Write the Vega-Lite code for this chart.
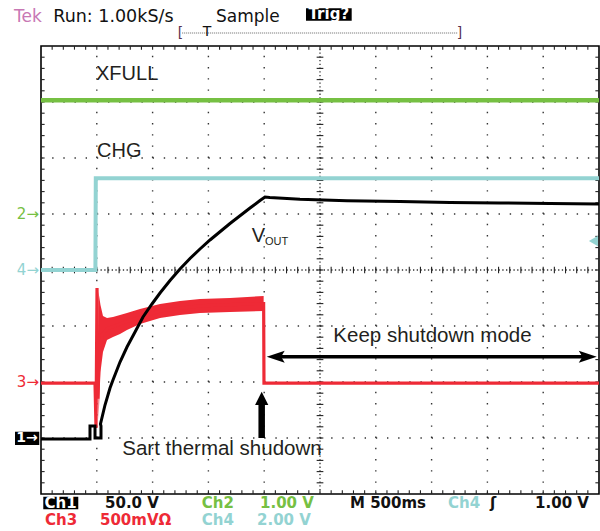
{
"$schema": "https://vega.github.io/schema/vega-lite/v6.json",
"width": 558, "height": 448,
"autosize": {"type": "none"},
"padding": {"left": 41, "top": 46, "right": 1, "bottom": 37},
"background": "#ffffff",
"config": {"view": {"stroke": "#000000", "strokeWidth": 1.6}},
"data": {"values": [{}]},
"datasets": {
"green": [{"x":0,"y":3.03},{"x":10,"y":3.03}],
"cyan": [{"x":0,"y":0},{"x":0.975,"y":0},{"x":0.982,"y":1.64},{"x":10,"y":1.64}],
"red": [{"x":0,"y":-2.02},{"x":0.968,"y":-2.02},{"x":0.986,"y":-2.82},{"x":1.004,"y":-0.32},{"x":1.02,"y":-2.3},{"x":1.04,"y":-1.5},{"x":1.1,"y":-1.15},{"x":1.183,"y":-1.05},{"x":1.541,"y":-0.92},{"x":2.133,"y":-0.73},{"x":2.849,"y":-0.64},{"x":3.387,"y":-0.62},{"x":3.99,"y":-0.6},{"x":3.996,"y":-2.02},{"x":10,"y":-2.02}],
"redBand": [{"x":1.03,"hi":-0.39,"lo":-2.68},{"x":1.066,"hi":-0.625,"lo":-1.82},{"x":1.111,"hi":-0.821,"lo":-1.464},{"x":1.183,"hi":-0.857,"lo":-1.25},{"x":1.29,"hi":-0.839,"lo":-1.196},{"x":1.416,"hi":-0.804,"lo":-1.143},{"x":1.541,"hi":-0.768,"lo":-1.071},{"x":1.774,"hi":-0.696,"lo":-0.964},{"x":2.133,"hi":-0.607,"lo":-0.857},{"x":2.491,"hi":-0.554,"lo":-0.804},{"x":2.849,"hi":-0.518,"lo":-0.768},{"x":3.387,"hi":-0.5,"lo":-0.75},{"x":3.99,"hi":-0.464,"lo":-0.732}],
"black": [{"x":0,"y":-3.018},{"x":0.878,"y":-3.018},{"x":0.878,"y":-2.786},{"x":0.968,"y":-2.786},{"x":0.968,"y":-3.0},{"x":1.075,"y":-3.0},{"x":1.075,"y":-2.786},{"x":1.066,"y":-2.75},{"x":1.147,"y":-2.411},{"x":1.237,"y":-2.107},{"x":1.29,"y":-1.964},{"x":1.416,"y":-1.643},{"x":1.541,"y":-1.375},{"x":1.685,"y":-1.107},{"x":1.828,"y":-0.839},{"x":1.989,"y":-0.607},{"x":2.133,"y":-0.411},{"x":2.312,"y":-0.188},{"x":2.491,"y":0.018},{"x":2.670,"y":0.205},{"x":2.849,"y":0.375},{"x":3.029,"y":0.536},{"x":3.387,"y":0.83},{"x":3.746,"y":1.107},{"x":3.925,"y":1.241},{"x":4.014,"y":1.304},{"x":4.1,"y":1.295},{"x":4.642,"y":1.263},{"x":5.484,"y":1.238},{"x":6.434,"y":1.223},{"x":7.33,"y":1.205},{"x":8.226,"y":1.196},{"x":9.122,"y":1.188},{"x":10,"y":1.179}],
"majorX": [{"v":1},{"v":2},{"v":3},{"v":4},{"v":6},{"v":7},{"v":8},{"v":9}],
"majorY": [{"v":-3},{"v":-2},{"v":-1},{"v":1},{"v":2},{"v":3}],
"minorX": [{"v":0.2},{"v":0.4},{"v":0.6},{"v":0.8},{"v":1.0},{"v":1.2},{"v":1.4},{"v":1.6},{"v":1.8},{"v":2.0},{"v":2.2},{"v":2.4},{"v":2.6},{"v":2.8},{"v":3.0},{"v":3.2},{"v":3.4},{"v":3.6},{"v":3.8},{"v":4.0},{"v":4.2},{"v":4.4},{"v":4.6},{"v":4.8},{"v":5.0},{"v":5.2},{"v":5.4},{"v":5.6},{"v":5.8},{"v":6.0},{"v":6.2},{"v":6.4},{"v":6.6},{"v":6.8},{"v":7.0},{"v":7.2},{"v":7.4},{"v":7.6},{"v":7.8},{"v":8.0},{"v":8.2},{"v":8.4},{"v":8.6},{"v":8.8},{"v":9.0},{"v":9.2},{"v":9.4},{"v":9.6},{"v":9.8}],
"minorY": [{"v":-3.8},{"v":-3.6},{"v":-3.4},{"v":-3.2},{"v":-3.0},{"v":-2.8},{"v":-2.6},{"v":-2.4},{"v":-2.2},{"v":-2.0},{"v":-1.8},{"v":-1.6},{"v":-1.4},{"v":-1.2},{"v":-1.0},{"v":-0.8},{"v":-0.6},{"v":-0.4},{"v":-0.2},{"v":0},{"v":0.2},{"v":0.4},{"v":0.6},{"v":0.8},{"v":1.0},{"v":1.2},{"v":1.4},{"v":1.6},{"v":1.8},{"v":2.0},{"v":2.2},{"v":2.4},{"v":2.6},{"v":2.8},{"v":3.0},{"v":3.2},{"v":3.4},{"v":3.6},{"v":3.8}]
},
"layer": [
{"data":{"name":"majorX"},"mark":{"type":"rule","color":"#333333","strokeWidth":1.4,"strokeDash":[1.4,9.8]},
 "encoding":{"x":{"field":"v","type":"quantitative","scale":{"domain":[0,10]},"axis":null},"y":{"datum":-4,"type":"quantitative","scale":{"domain":[-4,4]},"axis":null},"y2":{"datum":4}}},
{"data":{"name":"majorY"},"mark":{"type":"rule","color":"#333333","strokeWidth":1.4,"strokeDash":[1.4,9.76]},
 "encoding":{"y":{"field":"v","type":"quantitative","scale":{"domain":[-4,4]},"axis":null},"x":{"datum":0,"type":"quantitative","scale":{"domain":[0,10]},"axis":null},"x2":{"datum":10}}},
{"mark":{"type":"rule","color":"#333333","strokeWidth":1.3,"strokeDash":[1.3,2.43]},
 "encoding":{"x":{"datum":5,"type":"quantitative","scale":{"domain":[0,10]},"axis":null},"y":{"datum":-4,"type":"quantitative","scale":{"domain":[-4,4]},"axis":null},"y2":{"datum":4}}},
{"mark":{"type":"rule","color":"#333333","strokeWidth":1.3,"strokeDash":[1.3,2.42]},
 "encoding":{"x":{"datum":0,"type":"quantitative","scale":{"domain":[0,10]},"axis":null},"x2":{"datum":10},"y":{"datum":0,"type":"quantitative","scale":{"domain":[-4,4]},"axis":null}}},
{"data":{"name":"minorX"},"mark":{"type":"rule","color":"#222222","strokeWidth":1.1},
 "encoding":{"x":{"field":"v","type":"quantitative","scale":{"domain":[0,10]},"axis":null},"y":{"datum":4,"type":"quantitative","scale":{"domain":[-4,4]},"axis":null},"y2":{"datum":3.935}}},
{"data":{"name":"minorX"},"mark":{"type":"rule","color":"#222222","strokeWidth":1.1},
 "encoding":{"x":{"field":"v","type":"quantitative","scale":{"domain":[0,10]},"axis":null},"y":{"datum":-4,"type":"quantitative","scale":{"domain":[-4,4]},"axis":null},"y2":{"datum":-3.935}}},
{"data":{"name":"minorX"},"mark":{"type":"rule","color":"#222222","strokeWidth":1.1},
 "encoding":{"x":{"field":"v","type":"quantitative","scale":{"domain":[0,10]},"axis":null},"y":{"datum":-0.06,"type":"quantitative","scale":{"domain":[-4,4]},"axis":null},"y2":{"datum":0.06}}},
{"data":{"name":"minorY"},"mark":{"type":"rule","color":"#222222","strokeWidth":1.1},
 "encoding":{"y":{"field":"v","type":"quantitative","scale":{"domain":[-4,4]},"axis":null},"x":{"datum":0,"type":"quantitative","scale":{"domain":[0,10]},"axis":null},"x2":{"datum":0.065}}},
{"data":{"name":"minorY"},"mark":{"type":"rule","color":"#222222","strokeWidth":1.1},
 "encoding":{"y":{"field":"v","type":"quantitative","scale":{"domain":[-4,4]},"axis":null},"x":{"datum":9.935,"type":"quantitative","scale":{"domain":[0,10]},"axis":null},"x2":{"datum":10}}},
{"data":{"name":"minorY"},"mark":{"type":"rule","color":"#222222","strokeWidth":1.1},
 "encoding":{"y":{"field":"v","type":"quantitative","scale":{"domain":[-4,4]},"axis":null},"x":{"datum":4.94,"type":"quantitative","scale":{"domain":[0,10]},"axis":null},"x2":{"datum":5.06}}},
{"data":{"name":"green"},"mark":{"type":"line","color":"#76c043","strokeWidth":4.5},
 "encoding":{"x":{"field":"x","type":"quantitative","scale":{"domain":[0,10]},"axis":null},"y":{"field":"y","type":"quantitative","scale":{"domain":[-4,4]},"axis":null},"order":{"value":null}}},
{"data":{"name":"cyan"},"mark":{"type":"line","color":"#93d3d2","strokeWidth":4},
 "encoding":{"x":{"field":"x","type":"quantitative","scale":{"domain":[0,10]},"axis":null},"y":{"field":"y","type":"quantitative","scale":{"domain":[-4,4]},"axis":null},"order":{"value":null}}},
{"data":{"name":"redBand"},"mark":{"type":"area","color":"#ee2a36","opacity":1},
 "encoding":{"x":{"field":"x","type":"quantitative","scale":{"domain":[0,10]},"axis":null},"y":{"field":"hi","type":"quantitative","scale":{"domain":[-4,4]},"axis":null},"y2":{"field":"lo"}}},
{"data":{"name":"red"},"mark":{"type":"line","color":"#ee2a36","strokeWidth":3.2},
 "encoding":{"x":{"field":"x","type":"quantitative","scale":{"domain":[0,10]},"axis":null},"y":{"field":"y","type":"quantitative","scale":{"domain":[-4,4]},"axis":null},"order":{"value":null}}},
{"data":{"name":"black"},"mark":{"type":"line","color":"#000000","strokeWidth":3},
 "encoding":{"x":{"field":"x","type":"quantitative","scale":{"domain":[0,10]},"axis":null},"y":{"field":"y","type":"quantitative","scale":{"domain":[-4,4]},"axis":null},"order":{"value":null}}},
{"mark":{"type":"text","text":"2→","align":"right","baseline":"middle","font":"DejaVu Sans","fontSize":15,"color":"#76c043"},
 "encoding":{"x":{"datum":-0.036,"type":"quantitative","scale":{"domain":[0,10]},"axis":null},"y":{"datum":1.0,"type":"quantitative","scale":{"domain":[-4,4]},"axis":null}}},
{"mark":{"type":"text","text":"4→","align":"right","baseline":"middle","font":"DejaVu Sans","fontSize":15,"color":"#93d3d2"},
 "encoding":{"x":{"datum":-0.036,"type":"quantitative","scale":{"domain":[0,10]},"axis":null},"y":{"datum":0,"type":"quantitative","scale":{"domain":[-4,4]},"axis":null}}},
{"mark":{"type":"text","text":"3→","align":"right","baseline":"middle","font":"DejaVu Sans","fontSize":15,"color":"#ee2a36"},
 "encoding":{"x":{"datum":-0.036,"type":"quantitative","scale":{"domain":[0,10]},"axis":null},"y":{"datum":-2.0,"type":"quantitative","scale":{"domain":[-4,4]},"axis":null}}},
{"mark":{"type":"rect","color":"#000000"},
 "encoding":{"x":{"datum":-0.466,"type":"quantitative","scale":{"domain":[0,10]},"axis":null},"x2":{"datum":-0.031},"y":{"datum":-2.888,"type":"quantitative","scale":{"domain":[-4,4]},"axis":null},"y2":{"datum":-3.125}}},
{"mark":{"type":"text","text":"1→","align":"center","baseline":"middle","font":"DejaVu Sans","fontWeight":"bold","fontSize":14,"color":"#ffffff"},
 "encoding":{"x":{"datum":-0.25,"type":"quantitative","scale":{"domain":[0,10]},"axis":null},"y":{"datum":-3.006,"type":"quantitative","scale":{"domain":[-4,4]},"axis":null}}},
{"mark":{"type":"point","shape":"triangle-left","filled":true,"size":110,"color":"#93d3d2","opacity":1},
 "encoding":{"x":{"datum":9.9,"type":"quantitative","scale":{"domain":[0,10]},"axis":null},"y":{"datum":0.518,"type":"quantitative","scale":{"domain":[-4,4]},"axis":null}}},
{"mark":{"type":"text","text":"XFULL","align":"left","baseline":"alphabetic","font":"Liberation Sans","fontSize":20,"color":"#231f20"},
 "encoding":{"x":{"datum":0.986,"type":"quantitative","scale":{"domain":[0,10]},"axis":null},"y":{"datum":3.393,"type":"quantitative","scale":{"domain":[-4,4]},"axis":null}}},
{"mark":{"type":"text","text":"CHG","align":"left","baseline":"alphabetic","font":"Liberation Sans","fontSize":20,"color":"#231f20"},
 "encoding":{"x":{"datum":1.004,"type":"quantitative","scale":{"domain":[0,10]},"axis":null},"y":{"datum":2.018,"type":"quantitative","scale":{"domain":[-4,4]},"axis":null}}},
{"mark":{"type":"text","text":"V","align":"left","baseline":"alphabetic","font":"Liberation Sans","fontSize":20,"color":"#231f20"},
 "encoding":{"x":{"datum":3.776,"type":"quantitative","scale":{"domain":[0,10]},"axis":null},"y":{"datum":0.505,"type":"quantitative","scale":{"domain":[-4,4]},"axis":null}}},
{"mark":{"type":"text","text":"OUT","align":"left","baseline":"alphabetic","font":"Liberation Sans","fontSize":11,"color":"#231f20"},
 "encoding":{"x":{"datum":4.014,"type":"quantitative","scale":{"domain":[0,10]},"axis":null},"y":{"datum":0.446,"type":"quantitative","scale":{"domain":[-4,4]},"axis":null}}},
{"mark":{"type":"text","text":"Keep shutdown mode","align":"center","baseline":"alphabetic","font":"Liberation Sans","fontSize":20.5,"color":"#231f20"},
 "encoding":{"x":{"datum":7.016,"type":"quantitative","scale":{"domain":[0,10]},"axis":null},"y":{"datum":-1.28,"type":"quantitative","scale":{"domain":[-4,4]},"axis":null}}},
{"mark":{"type":"text","text":"Sart thermal shudown","align":"right","baseline":"alphabetic","font":"Liberation Sans","fontSize":20.5,"color":"#231f20"},
 "encoding":{"x":{"datum":5.03,"type":"quantitative","scale":{"domain":[0,10]},"axis":null},"y":{"datum":-3.31,"type":"quantitative","scale":{"domain":[-4,4]},"axis":null}}},
{"mark":{"type":"rule","color":"#000000","strokeWidth":3.5},
 "encoding":{"x":{"datum":4.2,"type":"quantitative","scale":{"domain":[0,10]},"axis":null},"x2":{"datum":9.8},"y":{"datum":-1.548,"type":"quantitative","scale":{"domain":[-4,4]},"axis":null}}},
{"mark":{"type":"point","shape":"M0,0L4.5,-1.5L3.6,0L4.5,1.5Z","filled":true,"size":64,"color":"#000000","opacity":1},
 "encoding":{"x":{"datum":4.045,"type":"quantitative","scale":{"domain":[0,10]},"axis":null},"y":{"datum":-1.548,"type":"quantitative","scale":{"domain":[-4,4]},"axis":null}}},
{"mark":{"type":"point","shape":"M0,0L-4.5,-1.5L-3.6,0L-4.5,1.5Z","filled":true,"size":64,"color":"#000000","opacity":1},
 "encoding":{"x":{"datum":9.96,"type":"quantitative","scale":{"domain":[0,10]},"axis":null},"y":{"datum":-1.548,"type":"quantitative","scale":{"domain":[-4,4]},"axis":null}}},
{"mark":{"type":"rule","color":"#000000","strokeWidth":6.5},
 "encoding":{"x":{"datum":3.955,"type":"quantitative","scale":{"domain":[0,10]},"axis":null},"y":{"datum":-2.38,"type":"quantitative","scale":{"domain":[-4,4]},"axis":null},"y2":{"datum":-3.0}}},
{"mark":{"type":"point","shape":"M0,0L-1,2L1,2Z","filled":true,"size":177,"color":"#000000","opacity":1},
 "encoding":{"x":{"datum":3.955,"type":"quantitative","scale":{"domain":[0,10]},"axis":null},"y":{"datum":-2.173,"type":"quantitative","scale":{"domain":[-4,4]},"axis":null}}},
{"mark":{"type":"text","text":"Tek","align":"left","baseline":"alphabetic","font":"DejaVu Sans","fontSize":17,"color":"#c878b4"},
 "encoding":{"x":{"datum":-0.484,"type":"quantitative","scale":{"domain":[0,10]},"axis":null},"y":{"datum":4.434,"type":"quantitative","scale":{"domain":[-4,4]},"axis":null}}},
{"mark":{"type":"text","text":"Run: 1.00kS/s","align":"left","baseline":"alphabetic","font":"DejaVu Sans","fontSize":17.5,"color":"#111111"},
 "encoding":{"x":{"datum":0.22,"type":"quantitative","scale":{"domain":[0,10]},"axis":null},"y":{"datum":4.434,"type":"quantitative","scale":{"domain":[-4,4]},"axis":null}}},
{"mark":{"type":"text","text":"Sample","align":"left","baseline":"alphabetic","font":"DejaVu Sans","fontSize":17,"color":"#111111"},
 "encoding":{"x":{"datum":3.136,"type":"quantitative","scale":{"domain":[0,10]},"axis":null},"y":{"datum":4.434,"type":"quantitative","scale":{"domain":[-4,4]},"axis":null}}},
{"mark":{"type":"rect","color":"#000000"},
 "encoding":{"x":{"datum":4.749,"type":"quantitative","scale":{"domain":[0,10]},"axis":null},"x2":{"datum":5.568},"y":{"datum":4.452,"type":"quantitative","scale":{"domain":[-4,4]},"axis":null},"y2":{"datum":4.674}}},
{"mark":{"type":"text","text":"Trig?","align":"center","baseline":"alphabetic","font":"DejaVu Sans","fontWeight":"bold","fontSize":15,"color":"#ffffff"},
 "encoding":{"x":{"datum":5.158,"type":"quantitative","scale":{"domain":[0,10]},"axis":null},"y":{"datum":4.475,"type":"quantitative","scale":{"domain":[-4,4]},"axis":null}}},
{"mark":{"type":"rule","color":"#666666","strokeWidth":1,"strokeDash":[1,1]},
 "encoding":{"x":{"datum":2.53,"type":"quantitative","scale":{"domain":[0,10]},"axis":null},"x2":{"datum":7.47},"y":{"datum":4.232,"type":"quantitative","scale":{"domain":[-4,4]},"axis":null}}},
{"mark":{"type":"text","text":"[","align":"center","baseline":"middle","font":"DejaVu Sans","fontSize":14,"color":"#5a3050"},
 "encoding":{"x":{"datum":2.5,"type":"quantitative","scale":{"domain":[0,10]},"axis":null},"y":{"datum":4.232,"type":"quantitative","scale":{"domain":[-4,4]},"axis":null}}},
{"mark":{"type":"text","text":"]","align":"center","baseline":"middle","font":"DejaVu Sans","fontSize":14,"color":"#5a3050"},
 "encoding":{"x":{"datum":7.5,"type":"quantitative","scale":{"domain":[0,10]},"axis":null},"y":{"datum":4.232,"type":"quantitative","scale":{"domain":[-4,4]},"axis":null}}},
{"mark":{"type":"text","text":"T","align":"center","baseline":"middle","font":"DejaVu Sans","fontSize":14,"color":"#111111"},
 "encoding":{"x":{"datum":2.975,"type":"quantitative","scale":{"domain":[0,10]},"axis":null},"y":{"datum":4.25,"type":"quantitative","scale":{"domain":[-4,4]},"axis":null}}},
{"mark":{"type":"rect","color":"#000000"},
 "encoding":{"x":{"datum":0.041,"type":"quantitative","scale":{"domain":[0,10]},"axis":null},"x2":{"datum":0.668},"y":{"datum":-4.048,"type":"quantitative","scale":{"domain":[-4,4]},"axis":null},"y2":{"datum":-4.273}}},
{"mark":{"type":"text","text":"Ch1","align":"left","baseline":"alphabetic","font":"DejaVu Sans","fontWeight":"bold","fontSize":15,"color":"#ffffff"},
 "encoding":{"x":{"datum":0.063,"type":"quantitative","scale":{"domain":[0,10]},"axis":null},"y":{"datum":-4.25,"type":"quantitative","scale":{"domain":[-4,4]},"axis":null}}},
{"mark":{"type":"text","text":"50.0 V","align":"left","baseline":"alphabetic","font":"DejaVu Sans","fontWeight":"bold","fontSize":15,"color":"#111111"},
 "encoding":{"x":{"datum":1.147,"type":"quantitative","scale":{"domain":[0,10]},"axis":null},"y":{"datum":-4.25,"type":"quantitative","scale":{"domain":[-4,4]},"axis":null}}},
{"mark":{"type":"text","text":"Ch2","align":"left","baseline":"alphabetic","font":"DejaVu Sans","fontWeight":"bold","fontSize":15,"color":"#76c043"},
 "encoding":{"x":{"datum":2.88,"type":"quantitative","scale":{"domain":[0,10]},"axis":null},"y":{"datum":-4.25,"type":"quantitative","scale":{"domain":[-4,4]},"axis":null}}},
{"mark":{"type":"text","text":"1.00 V","align":"left","baseline":"alphabetic","font":"DejaVu Sans","fontWeight":"bold","fontSize":15,"color":"#76c043"},
 "encoding":{"x":{"datum":3.925,"type":"quantitative","scale":{"domain":[0,10]},"axis":null},"y":{"datum":-4.25,"type":"quantitative","scale":{"domain":[-4,4]},"axis":null}}},
{"mark":{"type":"text","text":"M 500ms","align":"left","baseline":"alphabetic","font":"DejaVu Sans","fontWeight":"bold","fontSize":15,"color":"#111111"},
 "encoding":{"x":{"datum":5.538,"type":"quantitative","scale":{"domain":[0,10]},"axis":null},"y":{"datum":-4.25,"type":"quantitative","scale":{"domain":[-4,4]},"axis":null}}},
{"mark":{"type":"text","text":"Ch4","align":"left","baseline":"alphabetic","font":"DejaVu Sans","fontWeight":"bold","fontSize":15,"color":"#93d3d2"},
 "encoding":{"x":{"datum":7.294,"type":"quantitative","scale":{"domain":[0,10]},"axis":null},"y":{"datum":-4.25,"type":"quantitative","scale":{"domain":[-4,4]},"axis":null}}},
{"mark":{"type":"text","text":"ʃ","align":"left","baseline":"alphabetic","font":"DejaVu Sans","fontWeight":"bold","fontSize":15,"color":"#111111"},
 "encoding":{"x":{"datum":8.047,"type":"quantitative","scale":{"domain":[0,10]},"axis":null},"y":{"datum":-4.25,"type":"quantitative","scale":{"domain":[-4,4]},"axis":null}}},
{"mark":{"type":"text","text":"1.00 V","align":"right","baseline":"alphabetic","font":"DejaVu Sans","fontWeight":"bold","fontSize":15,"color":"#111111"},
 "encoding":{"x":{"datum":9.82,"type":"quantitative","scale":{"domain":[0,10]},"axis":null},"y":{"datum":-4.25,"type":"quantitative","scale":{"domain":[-4,4]},"axis":null}}},
{"mark":{"type":"text","text":"Ch3","align":"left","baseline":"alphabetic","font":"DejaVu Sans","fontWeight":"bold","fontSize":15,"color":"#ee2a36"},
 "encoding":{"x":{"datum":0.072,"type":"quantitative","scale":{"domain":[0,10]},"axis":null},"y":{"datum":-4.554,"type":"quantitative","scale":{"domain":[-4,4]},"axis":null}}},
{"mark":{"type":"text","text":"500mVΩ","align":"left","baseline":"alphabetic","font":"DejaVu Sans","fontWeight":"bold","fontSize":15,"color":"#ee2a36"},
 "encoding":{"x":{"datum":1.057,"type":"quantitative","scale":{"domain":[0,10]},"axis":null},"y":{"datum":-4.554,"type":"quantitative","scale":{"domain":[-4,4]},"axis":null}}},
{"mark":{"type":"text","text":"Ch4","align":"left","baseline":"alphabetic","font":"DejaVu Sans","fontWeight":"bold","fontSize":15,"color":"#93d3d2"},
 "encoding":{"x":{"datum":2.88,"type":"quantitative","scale":{"domain":[0,10]},"axis":null},"y":{"datum":-4.554,"type":"quantitative","scale":{"domain":[-4,4]},"axis":null}}},
{"mark":{"type":"text","text":"2.00 V","align":"left","baseline":"alphabetic","font":"DejaVu Sans","fontWeight":"bold","fontSize":15,"color":"#93d3d2"},
 "encoding":{"x":{"datum":3.871,"type":"quantitative","scale":{"domain":[0,10]},"axis":null},"y":{"datum":-4.554,"type":"quantitative","scale":{"domain":[-4,4]},"axis":null}}}
]
}
